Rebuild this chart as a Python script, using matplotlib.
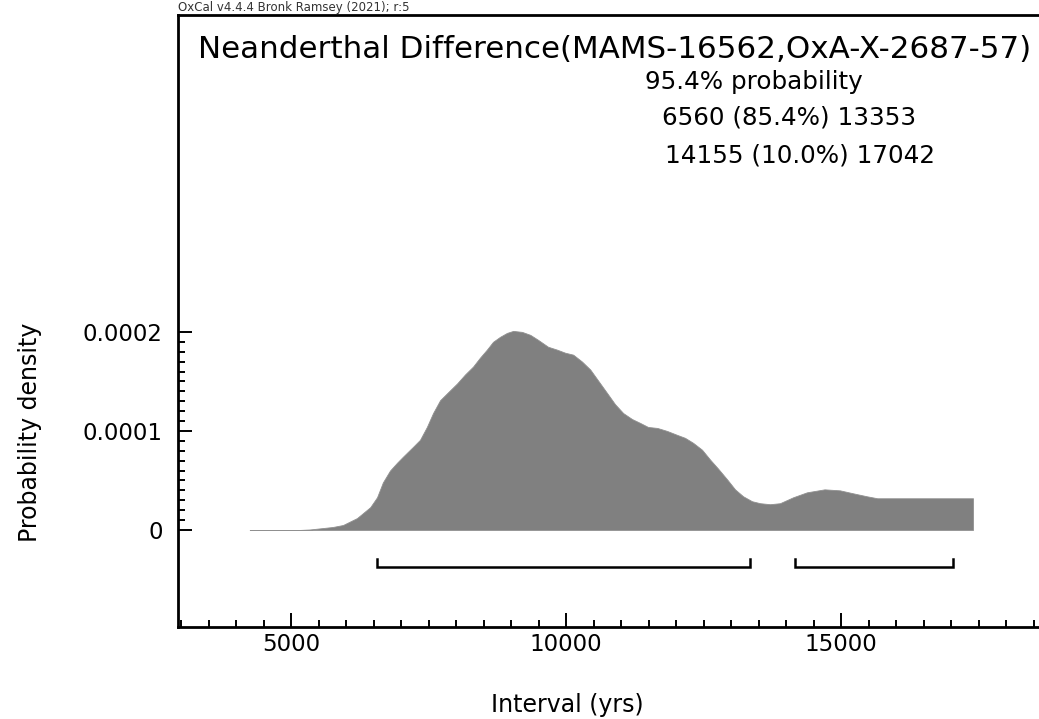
#!/usr/bin/env python3
"""OxCal-style difference plot: Neanderthal interval density."""
import matplotlib
matplotlib.use('Agg')
import matplotlib.pyplot as plt
from matplotlib.ticker import MultipleLocator, FixedLocator

plt.rcParams['font.family'] = ['DejaVu Sans']

# ---- data ----
years = [4250, 5160, 5345, 5760, 5945, 6200, 6309, 6440, 6564, 6670,
         6800, 6930, 7036, 7220, 7345, 7470, 7582, 7710, 7855, 8020,
         8164, 8310, 8436, 8560, 8673, 8800, 8927, 9040, 9200, 9350,
         9491, 9673, 9840, 9982, 10130, 10291, 10440, 10582, 10750, 10891,
         11040, 11200, 11350, 11491, 11660, 11836, 12020, 12164, 12310, 12473,
         12620, 12764, 12930, 13073, 13220, 13382, 13530, 13709, 13890, 14130,
         14380, 14700, 14980, 15220, 15470, 15660, 16070, 17400]
density = [0.0, 0.0, 0.05e-5, 0.3e-5, 0.5e-5, 1.2e-5, 1.7e-5, 2.3e-5, 3.3e-5, 4.8e-5,
           6.0e-5, 6.8e-5, 7.4e-5, 8.4e-5, 9.1e-5, 10.4e-5, 11.8e-5, 13.1e-5, 13.9e-5, 14.8e-5,
           15.7e-5, 16.5e-5, 17.4e-5, 18.2e-5, 19.0e-5, 19.5e-5, 19.9e-5, 20.1e-5, 20.0e-5, 19.7e-5,
           19.2e-5, 18.5e-5, 18.2e-5, 17.9e-5, 17.7e-5, 17.0e-5, 16.2e-5, 15.1e-5, 13.8e-5, 12.7e-5,
           11.8e-5, 11.2e-5, 10.8e-5, 10.4e-5, 10.3e-5, 10.0e-5, 9.6e-5, 9.3e-5, 8.8e-5, 8.1e-5,
           7.1e-5, 6.2e-5, 5.1e-5, 4.1e-5, 3.4e-5, 2.9e-5, 2.7e-5, 2.6e-5, 2.7e-5, 3.3e-5,
           3.8e-5, 4.1e-5, 4.0e-5, 3.7e-5, 3.4e-5, 3.2e-5, 3.2e-5, 3.2e-5]

ranges = [(6560, 13353), (14155, 17042)]
range_pcts = ['85.4%', '10.0%']
bracket_y = -3.7e-5
bracket_tick = 0.8e-5

title = 'Neanderthal Difference(MAMS-16562,OxA-X-2687-57)'
W, H = 1039, 719

fig = plt.figure(figsize=(W / 100, H / 100), dpi=100)
ax = fig.add_axes([178 / W, 92 / H, (W - 178) / W, 612 / H])

ax.fill_between(years, 0, density, color='#808080', lw=0.6, edgecolor='#909090')

for lo, hi in ranges:
    ax.plot([lo, lo, hi, hi], [bracket_y + bracket_tick, bracket_y, bracket_y, bracket_y + bracket_tick],
            color='black', lw=1.8, solid_joinstyle='miter')

ax.set_xlim(2945, 18600)
ax.set_ylim(-9.8e-5, 5.2e-4)
ax.set_xticks([5000, 10000, 15000])
ax.set_yticks([0, 0.0001, 0.0002])
ax.set_yticklabels(['0', '0.0001', '0.0002'])
ax.xaxis.set_minor_locator(MultipleLocator(500))
# minor y ticks only between 0 and 0.0002, like OxCal
ax.yaxis.set_minor_locator(FixedLocator([v * 1e-5 for v in range(1, 20) if v != 10]))
ax.tick_params(which='both', direction='in', width=1.4, labelsize=16.5, colors='black')
ax.tick_params(which='major', length=10)
ax.tick_params(which='minor', length=5)
ax.tick_params(axis='y', which='major', pad=11)
ax.tick_params(axis='x', which='major', pad=4)
ax.tick_params(right=False, top=False)
ax.spines['right'].set_visible(False)
for s in ('top', 'left', 'bottom'):
    ax.spines[s].set_linewidth(2)

fig.text(567 / W, 1 - 705 / H, 'Interval (yrs)', ha='center', va='center', fontsize=17)
fig.text(30 / W, 1 - 432 / H, 'Probability density', ha='center', va='center',
         rotation=90, fontsize=17)

fig.text(178 / W, 1 - 8 / H, 'OxCal v4.4.4 Bronk Ramsey (2021); r:5', ha='left', va='center',
         fontsize=8.5, color='#333333')
fig.text(198 / W, 1 - 50 / H, title, ha='left', va='center', fontsize=22.3)
fig.text(645 / W, 1 - 82 / H, '95.4% probability', ha='left', va='center', fontsize=17.7)
fig.text(662 / W, 1 - 117 / H, f'{ranges[0][0]} ({range_pcts[0]}) {ranges[0][1]}',
         ha='left', va='center', fontsize=17.7)
fig.text(665 / W, 1 - 155 / H, f'{ranges[1][0]} ({range_pcts[1]}) {ranges[1][1]}',
         ha='left', va='center', fontsize=17.7)

plt.savefig('out.png', dpi=100)
plt.close()
print('[saved] out.png')
